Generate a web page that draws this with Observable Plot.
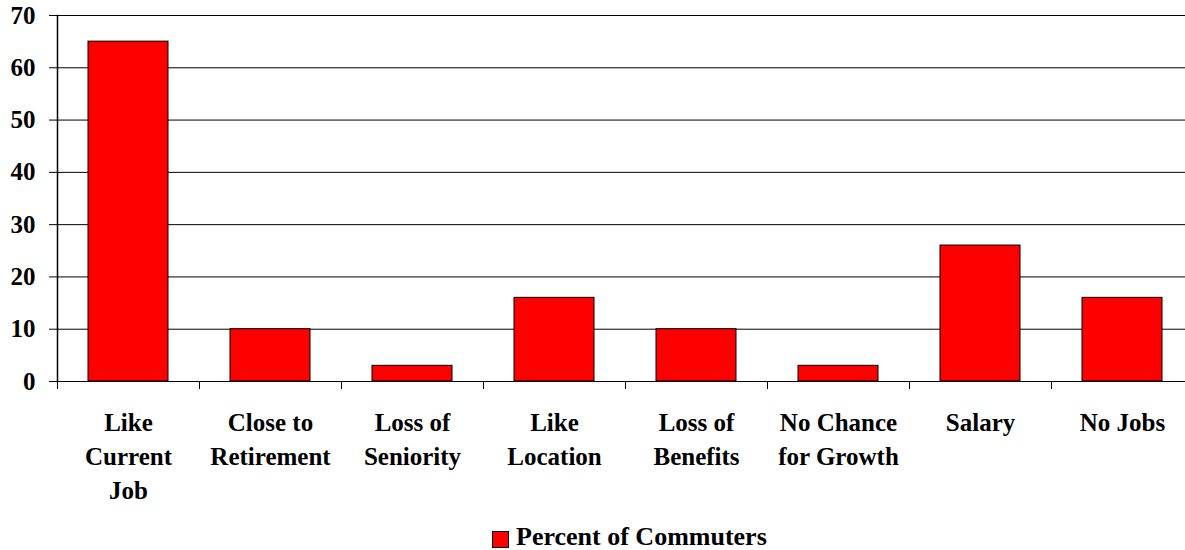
<!DOCTYPE html>
<html>
<head>
<meta charset="utf-8">
<script src="https://cdn.jsdelivr.net/npm/d3@7"></script>
<script src="https://cdn.jsdelivr.net/npm/@observablehq/plot@0.6"></script>
<style>
  html, body { margin: 0; padding: 0; background: #fff; overflow: hidden; width: 1185px; height: 550px; }
  #wrap { position: relative; width: 1185px; height: 550px; overflow: hidden; }
  #chart svg { max-width: none !important; display: block; }
  #legend { position: absolute; left: 0; top: 510px; width: 1185px; height: 40px;
    font-family: "Times New Roman", "Liberation Serif", serif; font-weight: bold; font-size: 26px; color: #000; }
  #legend .sw { position: absolute; left: 492px; top: 21px; width: 17px; height: 17px; box-sizing: border-box;
    background: #ff0000; border: 1px solid #000; }
  #legend .lab { position: absolute; left: 516px; top: 15px; line-height: 24px; white-space: nowrap; }
</style>
</head>
<body>
<div id="wrap">
  <div id="chart"></div>
  <div id="legend"><span class="sw"></span><span class="lab"></span></div>
</div>
<script>
const categories = [
  "Like\nCurrent\nJob",
  "Close to\nRetirement",
  "Loss of\nSeniority",
  "Like\nLocation",
  "Loss of\nBenefits",
  "No Chance\nfor Growth",
  "Salary",
  "No Jobs"
];
const values = [65, 10, 3, 16, 10, 3, 26, 16];
const yTicks = [0, 10, 20, 30, 40, 50, 60, 70];
const seriesName = "Percent of Commuters";

const data = categories.map((c, i) => ({category: c, value: values[i]}));

const W = 1193, H = 510, mL = 57, mR = 0, mT = 15, mB = 129;
const step = (W - mL - mR) / categories.length;
const font = "'Times New Roman', 'Liberation Serif', serif";

const chart = Plot.plot({
  width: W,
  height: H,
  marginLeft: mL,
  marginRight: mR,
  marginTop: mT,
  marginBottom: mB,
  style: {fontFamily: font, fontWeight: "bold", fontSize: "25px", color: "#000", background: "#fff", overflow: "visible", maxWidth: "none"},
  x: {domain: categories, paddingInner: 0.44, paddingOuter: 0.22, axis: null},
  y: {domain: [0, 70], axis: null},
  marks: [
    Plot.ruleY(yTicks, {stroke: "#000", strokeWidth: 1}),
    Plot.barY(data, {x: "category", y: "value", fill: "#ff0000", stroke: "#000", strokeWidth: 1}),
    Plot.frame({anchor: "left", stroke: "#000", strokeWidth: 1.5}),
    Plot.axisY({ticks: yTicks, tickSize: 8, tickPadding: 14, stroke: "#000", fontSize: 25, fontWeight: "bold", fill: "#000", label: null}),
    Plot.ruleX(categories, {x: d => d, y1: 0, y2: 0, insetBottom: -8, dx: -step / 2, stroke: "#000"}),
    Plot.text(categories, {x: d => d, text: d => d, frameAnchor: "bottom", lineAnchor: "top", dy: 25, lineHeight: 1.36, fontSize: 25, fontWeight: "bold", fill: "#000"})
  ]
});
document.getElementById("chart").appendChild(chart);
document.querySelector("#legend .lab").textContent = seriesName;
</script>
</body>
</html>
